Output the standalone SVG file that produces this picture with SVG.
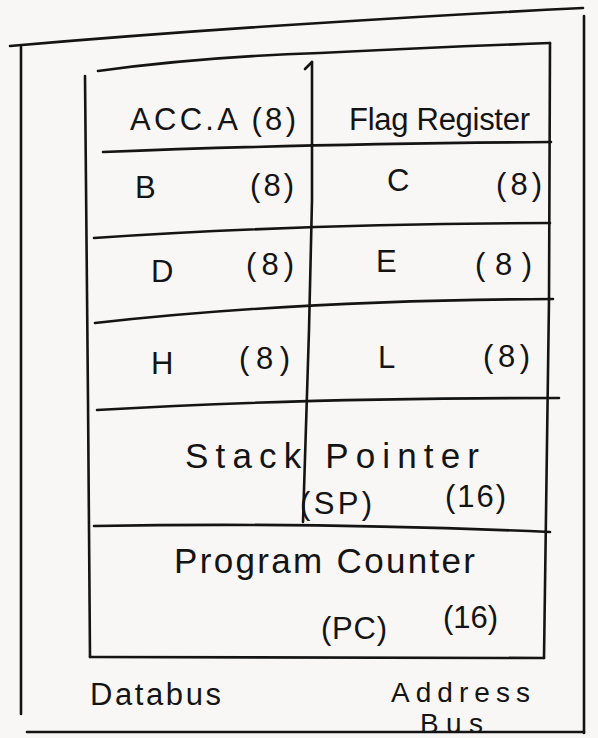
<svg xmlns="http://www.w3.org/2000/svg" width="598" height="738" viewBox="0 0 598 738">
<style>
.ln{fill:none;stroke:#141414;stroke-width:2.6;stroke-linecap:round;stroke-linejoin:round}
.t{font-family:"Liberation Sans","DejaVu Sans",sans-serif;fill:#141414;font-size:31px;lengthAdjust:spacingAndGlyphs}
.big{font-size:35px}
.sm{font-size:28px}
</style>
<rect x="0" y="0" width="598" height="738" fill="#f9f7f5"/>
<g id="frame">
  <path class="ln" d="M10,46 Q160,33 320,23 Q460,14 583,8"/>
  <path class="ln" d="M21,47 L21,714"/>
  <path class="ln" d="M584,16 L584,733"/>
  <path class="ln" d="M27,732 L584,732"/>
</g>
<g id="register-block">
  <path class="ln" d="M98,71 Q200,57 320,53 Q440,47 550,43"/>
  <path class="ln" d="M85,76 L88,400 L90,657"/>
  <path class="ln" d="M550,43 L549,300 L544,658"/>
  <path class="ln" d="M90,657 Q300,657 544,658"/>
</g>
<g id="connectors">
  <path class="ln" d="M312,62 L312,200 L309,330 L303,522"/>
  <path class="ln" d="M305,69 L312,62"/>
  <path class="ln" d="M103,152 Q300,144 551,142"/>
  <path class="ln" d="M94,238 Q300,224 550,223"/>
  <path class="ln" d="M95,323 Q300,300 553,299"/>
  <path class="ln" d="M97,410 Q300,398 559,398"/>
  <path class="ln" d="M94,526 Q320,522 550,532"/>
</g>
<g id="acc-a"><text class="t" x="130" y="130" textLength="166">ACC.A (8)</text></g>
<g id="flag-register"><text class="t" x="349" y="130" textLength="181">Flag Register</text></g>
<g id="reg-b"><text class="t" x="135" y="198">B</text><text class="t" x="250" y="196" textLength="44">(8)</text></g>
<g id="reg-c"><text class="t" x="387" y="191">C</text><text class="t" x="496" y="195" textLength="46">(8)</text></g>
<g id="reg-d"><text class="t" x="151" y="282">D</text><text class="t" x="246" y="275" textLength="48">(8)</text></g>
<g id="reg-e"><text class="t" x="376" y="272">E</text><text class="t" x="475" y="275" textLength="57">(8)</text></g>
<g id="reg-h"><text class="t" x="151" y="374">H</text><text class="t" x="239" y="369" textLength="51">(8)</text></g>
<g id="reg-l"><text class="t" x="378" y="368">L</text><text class="t" x="483" y="367" textLength="47">(8)</text></g>
<g id="stack-pointer">
  <text class="t big" x="185" y="468" textLength="294">Stack Pointer</text>
  <text class="t" x="300" y="514" textLength="72">(SP)</text>
  <text class="t" x="445" y="507" textLength="61">(16)</text>
</g>
<g id="program-counter">
  <text class="t big" x="174" y="573" textLength="301">Program Counter</text>
  <text class="t" x="321" y="639" textLength="66">(PC)</text>
  <text class="t" x="443" y="628" textLength="55">(16)</text>
</g>
<g id="data-bus"><text class="t" x="90" y="705" textLength="131">Databus</text></g>
<g id="address-bus">
  <text class="t sm" x="391" y="702" textLength="139">Address</text>
  <text class="t sm" x="420" y="733" textLength="63">Bus</text>
</g>
</svg>
